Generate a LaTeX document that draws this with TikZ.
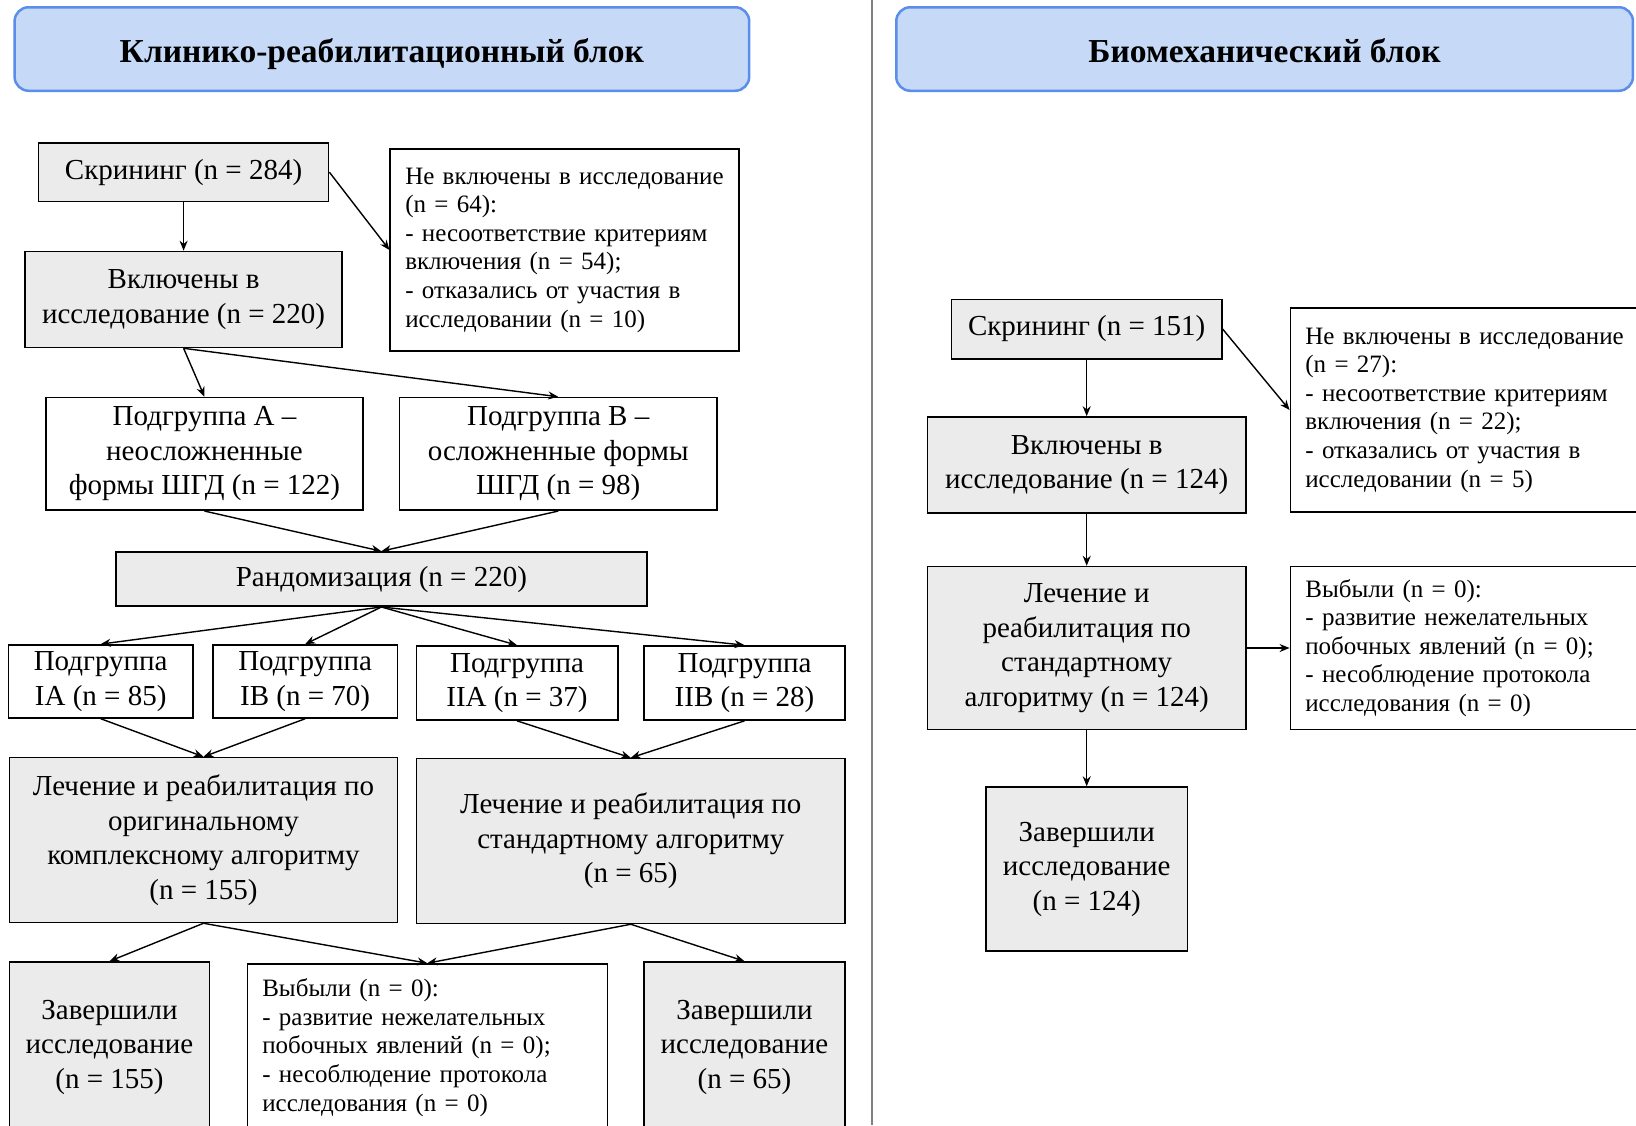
\documentclass[tikz,border=0pt]{standalone}
\usepackage{fontspec}
\setmainfont{Liberation Serif}
\usetikzlibrary{arrows.meta}
\definecolor{boxgray}{HTML}{EBEBEB}
\definecolor{titlefill}{HTML}{C6DAF7}
\definecolor{titledraw}{HTML}{5B8DEA}
\definecolor{divgray}{HTML}{808080}
\newcommand\bigtxt{\fontsize{29}{34.5}\selectfont}
\newcommand\smalltxt{\fontsize{25}{28.6}\selectfont}
\newcommand\titletxt{\fontsize{33.5}{38}\selectfont\bfseries}
\begin{document}
\begin{tikzpicture}[x=1pt,y=-1pt,
  base/.style={draw=black,line width=1.6pt,inner sep=0pt,rectangle},
  graybox/.style={base,fill=boxgray,align=center,font=\bigtxt},
  whitebox/.style={base,fill=white,align=center,font=\bigtxt},
  notebox/.style={base,fill=white,align=left,font=\smalltxt,inner xsep=15pt},
  titlebox/.style={draw=titledraw,fill=titlefill,line width=2.5pt,rounded corners=14pt,font=\titletxt,text height=30pt,text depth=4pt},
  arr/.style={-{Stealth[length=10pt,width=8pt]},line width=1.4pt}
]
\useasboundingbox (0,0) rectangle (1636,1125);
\clip (0,0) rectangle (1636,1125);
\fill[white] (0,0) rectangle (1636,1125);
\draw[divgray,line width=2pt] (872.3,0) -- (872.3,1125);

% titles
\node[titlebox,minimum width=734.6pt,minimum height=83.5pt] (tL) at (381.9,49) {Клинико-реабилитационный блок};
\node[titlebox,minimum width=736.7pt,minimum height=83.5pt] (tR) at (1264.6,49) {Биомеханический блок};

% left block
\node[graybox,minimum width=290pt,minimum height=58.4pt] (scrL) at (183.6,172.2) {Скрининг (n = 284)};
\node[notebox,text width=318.5pt,minimum height=202.4pt] (exL) at (564.5,250) {Не включены в исследование\\(n = 64):\\- несоответствие критериям\\включения (n = 54);\\- отказались от участия в\\исследовании (n = 10)};
\node[graybox,minimum width=317.2pt,minimum height=96pt] (incL) at (183.6,299.5) {Включены в\\исследование (n = 220)};
\node[whitebox,minimum width=317.2pt,minimum height=112.7pt] (subA) at (204.5,453.9) {Подгруппа A –\\неосложненные\\формы ШГД (n = 122)};
\node[whitebox,minimum width=317.2pt,minimum height=112.7pt] (subB) at (558.2,453.9) {Подгруппа B –\\осложненные формы\\ШГД (n = 98)};
\node[graybox,minimum width=531.1pt,minimum height=54.2pt] (rand) at (381.4,579.1) {Рандомизация (n = 220)};
\node[whitebox,minimum width=184.7pt,minimum height=73pt] (gIA) at (100.7,681.4) {Подгруппа\\IA (n = 85)};
\node[whitebox,minimum width=184.7pt,minimum height=73pt] (gIB) at (305.2,681.4) {Подгруппа\\IB (n = 70)};
\node[whitebox,minimum width=201.4pt,minimum height=74.1pt] (gIIA) at (517,683) {Подгруппа\\IIA (n = 37)};
\node[whitebox,minimum width=201.4pt,minimum height=74.1pt] (gIIB) at (744.5,683) {Подгруппа\\IIB (n = 28)};
\node[graybox,minimum width=388.1pt,minimum height=164.9pt] (tr1) at (203.5,840) {Лечение и реабилитация по\\оригинальному\\комплексному алгоритму\\(n = 155)};
\node[graybox,minimum width=428.9pt,minimum height=164.9pt] (tr2) at (630.8,841) {Лечение и реабилитация по\\стандартному алгоритму\\(n = 65)};
\node[graybox,minimum width=200.3pt,minimum height=170pt] (done1) at (109.5,1047) {Завершили\\исследование\\(n = 155)};
\node[notebox,text width=330pt,minimum height=167pt] (dropL) at (427.3,1047.5) {Выбыли (n = 0):\\- развитие нежелательных\\побочных явлений (n = 0);\\- несоблюдение протокола\\исследования (n = 0)};
\node[graybox,minimum width=201.4pt,minimum height=170pt] (done2) at (744.5,1047) {Завершили\\исследование\\(n = 65)};

\draw[arr] (scrL.south) -- (incL.north);
\draw[arr] (scrL.east) -- (exL.west);
\draw[arr] (incL.south) -- (subA.north);
\draw[arr] (incL.south) -- (subB.north);
\draw[arr] (subA.south) -- (rand.north);
\draw[arr] (subB.south) -- (rand.north);
\draw[arr] (rand.south) -- (gIA.north);
\draw[arr] (rand.south) -- (gIB.north);
\draw[arr] (rand.south) -- (gIIA.north);
\draw[arr] (rand.south) -- (gIIB.north);
\draw[arr] (gIA.south) -- (tr1.north);
\draw[arr] (gIB.south) -- (tr1.north);
\draw[arr] (gIIA.south) -- (tr2.north);
\draw[arr] (gIIB.south) -- (tr2.north);
\draw[arr] (tr1.south) -- (done1.north);
\draw[arr] (tr1.south) -- (dropL.north);
\draw[arr] (tr2.south) -- (dropL.north);
\draw[arr] (tr2.south) -- (done2.north);

% right block
\node[graybox,minimum width=270.2pt,minimum height=59.4pt] (scrR) at (1086.7,329) {Скрининг (n = 151)};
\node[notebox,text width=319.3pt,minimum height=203.5pt] (exR) at (1465,410) {Не включены в исследование\\(n = 27):\\- несоответствие критериям\\включения (n = 22);\\- отказались от участия в\\исследовании (n = 5)};
\node[graybox,minimum width=318.2pt,minimum height=96pt] (incR) at (1086.7,465) {Включены в\\исследование (n = 124)};
\node[graybox,minimum width=318.2pt,minimum height=162.8pt] (trR) at (1086.7,648) {Лечение и\\реабилитация по\\стандартному\\алгоритму (n = 124)};
\node[notebox,text width=319.3pt,minimum height=162.8pt] (dropR) at (1465,648) {Выбыли (n = 0):\\- развитие нежелательных\\побочных явлений (n = 0);\\- несоблюдение протокола\\исследования (n = 0)};
\node[graybox,minimum width=201.4pt,minimum height=163.8pt] (doneR) at (1086.7,869) {Завершили\\исследование\\(n = 124)};

\draw[arr] (scrR.south) -- (incR.north);
\draw[arr] (scrR.east) -- (exR.west);
\draw[arr] (incR.south) -- (trR.north);
\draw[arr] (trR.east) -- (dropR.west);
\draw[arr] (trR.south) -- (doneR.north);
\end{tikzpicture}
\end{document}
